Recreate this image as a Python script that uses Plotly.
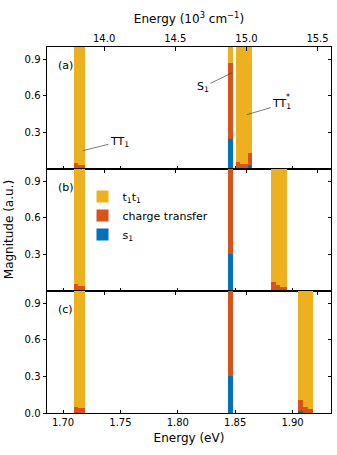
import plotly.graph_objects as go

# ---------------- data ----------------
KCM_PER_EV = 8.065544  # 1 eV = 8.065544 x 10^3 cm^-1

panel_labels = ["(a)", "(b)", "(c)"]
series_names = ["s<sub>1</sub>", "charge transfer", "t<sub>1</sub>t<sub>1</sub>"]

energy_a = [1.7116, 1.7150, 1.7175, 1.8459, 1.8527, 1.8562, 1.8594, 1.8629]
s1_a = [0.0, 0.0, 0.0, 0.25, 0.0, 0.0, 0.0, 0.03]
ct_a = [0.046, 0.030, 0.030, 0.62, 0.060, 0.040, 0.040, 0.10]
tt_a = [2.5, 2.5, 2.5, 0.60, 2.5, 2.5, 2.5, 2.5]

energy_b = [1.7116, 1.7150, 1.7175, 1.8459, 1.8835, 1.8872, 1.8914, 1.8932]
s1_b = [0.0, 0.0, 0.0, 0.30, 0.0, 0.0, 0.0, 0.0]
ct_b = [0.055, 0.043, 0.043, 0.90, 0.071, 0.049, 0.035, 0.035]
tt_b = [2.5, 2.5, 2.5, 0.10, 2.5, 2.5, 2.5, 2.5]

energy_c = [1.7116, 1.7150, 1.7175, 1.8459, 1.9071, 1.9111, 1.9152, 1.9162]
s1_c = [0.0, 0.0, 0.0, 0.30, 0.015, 0.0, 0.0, 0.0]
ct_c = [0.052, 0.040, 0.040, 0.90, 0.092, 0.052, 0.033, 0.033]
tt_c = [2.5, 2.5, 2.5, 0.10, 2.5, 2.5, 2.5, 2.5]

x_ticks_ev = [1.70, 1.75, 1.80, 1.85, 1.90]
x_ticks_kcm = [14.0, 14.5, 15.0, 15.5]
y_ticks_top = [0.3, 0.6, 0.9]
y_ticks_bottom = [0.0, 0.3, 0.6, 0.9]

# ---------------- style ----------------
COLORS = ["#0072BD", "#D95319", "#EDB120"]
FONT = "DejaVu Sans"
BAR_W = 0.004
X_RANGE = [1.686, 1.9335]
Y_RANGE = [0.0, 1.0]
DOMAINS = [[2 / 3, 1.0], [1 / 3, 2 / 3], [0.0, 1 / 3]]

panels = [
    (energy_a, s1_a, ct_a, tt_a),
    (energy_b, s1_b, ct_b, tt_b),
    (energy_c, s1_c, ct_c, tt_c),
]

fig = go.Figure()

for i, (en, s1, ct, tt) in enumerate(panels):
    n = i + 1
    xa = "x" if n == 1 else f"x{n}"
    ya = "y" if n == 1 else f"y{n}"
    base_ct = list(s1)
    base_tt = [a + b for a, b in zip(s1, ct)]
    comps = [(s1, [0.0] * len(s1)), (ct, base_ct), (tt, base_tt)]
    for k, (vals, base) in enumerate(comps):
        fig.add_trace(go.Bar(
            x=en, y=vals, base=base, width=BAR_W,
            marker=dict(color=COLORS[k], line=dict(width=0)),
            name=series_names[k], showlegend=(i == 0),
            xaxis=xa, yaxis=ya,
        ))
    # empty traces so that the secondary (top / right) axes get drawn
    fig.add_trace(go.Scatter(x=[], y=[], xaxis=f"x{n + 3}", yaxis=ya,
                             showlegend=False, hoverinfo="skip"))
    fig.add_trace(go.Scatter(x=[], y=[], xaxis=xa, yaxis=f"y{n + 3}",
                             showlegend=False, hoverinfo="skip"))

axis_line = dict(showline=True, linecolor="black", linewidth=1,
                 showgrid=False, zeroline=False, tickcolor="black",
                 tickwidth=1, ticklen=3.5, automargin=False,
                 tickfont=dict(family=FONT, size=10, color="black"))

layout = dict(
    width=337, height=455,
    margin=dict(l=47, r=6, t=47, b=42, autoexpand=False),
    paper_bgcolor="white", plot_bgcolor="white",
    barmode="overlay", bargap=0,
    font=dict(family=FONT, size=10, color="black"),
    showlegend=True,
    legend=dict(
        x=0.125, y=0.631, xanchor="left", yanchor="top",
        traceorder="reversed", bgcolor="rgba(0,0,0,0)",
        font=dict(family=FONT, size=11, color="black"),
    ),
)

kcm_range = [X_RANGE[0] * KCM_PER_EV, X_RANGE[1] * KCM_PER_EV]

for i in range(3):
    n = i + 1
    suffix = "" if n == 1 else str(n)
    yname = "y" if n == 1 else f"y{n}"
    xname = "x" if n == 1 else f"x{n}"
    # bottom eV axis
    xa = dict(axis_line, range=X_RANGE, domain=[0, 1], anchor=yname,
              ticks="inside", tickvals=x_ticks_ev, tickformat=".2f",
              showticklabels=(n == 3))
    if n == 3:
        xa["title"] = dict(text="Energy (eV)", font=dict(family=FONT, size=12),
                           standoff=6)
    layout[f"xaxis{suffix}"] = xa
    # left y axis
    layout[f"yaxis{suffix}"] = dict(
        axis_line, range=Y_RANGE, domain=DOMAINS[i], anchor=xname,
        ticks="outside", tickvals=(y_ticks_bottom if n == 3 else y_ticks_top),
        tickformat=".1f")
    # top wavenumber axis
    xt = dict(axis_line, range=kcm_range, overlaying=xname, anchor=yname,
              side="top", ticks="inside", tickvals=x_ticks_kcm,
              tickformat=".1f", showticklabels=(n == 1))
    if n == 1:
        xt["title"] = dict(text="Energy (10<sup>3</sup> cm<sup>\u22121</sup>)",
                           font=dict(family=FONT, size=12), standoff=6)
    layout[f"xaxis{n + 3}"] = xt
    # right y axis
    layout[f"yaxis{n + 3}"] = dict(
        axis_line, range=Y_RANGE, overlaying=yname, anchor=xname,
        side="right", ticks="inside", tickvals=y_ticks_top,
        showticklabels=False)

fig.update_layout(**layout)

# panel labels
for i, lab in enumerate(panel_labels):
    n = i + 1
    fig.add_annotation(
        x=1.6942, y=0.845, xref="x" if n == 1 else f"x{n}",
        yref="y" if n == 1 else f"y{n}", text=lab, showarrow=False,
        xanchor="left", yanchor="middle",
        font=dict(family=FONT, size=11, color="black"))

# state annotations in panel (a)
arrow_style = dict(showarrow=True, arrowhead=0, arrowwidth=0.7,
                   arrowcolor="#444444", axref="x", ayref="y",
                   xref="x", yref="y",
                   font=dict(family=FONT, size=11, color="black"))
fig.add_annotation(x=1.7172, y=0.15, ax=1.7490, ay=0.225,
                   text="TT<sub>1</sub>", **arrow_style)
fig.add_annotation(x=1.8475, y=0.79, ax=1.8219, ay=0.672,
                   text="S<sub>1</sub>", **arrow_style)
fig.add_annotation(x=1.8600, y=0.445, ax=1.8906, ay=0.530,
                   text="TT<sub>1</sub>", **arrow_style)
fig.add_annotation(x=1.8925, y=0.585, xref="x", yref="y", text="*",
                   showarrow=False, xanchor="left",
                   font=dict(family=FONT, size=8, color="black"))

# y-axis title
fig.add_annotation(x=-0.133, y=0.5, xref="paper", yref="paper",
                   text="Magnitude (a.u.)", textangle=-90, showarrow=False,
                   xanchor="center", yanchor="middle",
                   font=dict(family=FONT, size=12, color="black"))

fig.write_html("out.html",
               config={"displayModeBar": False},
               post_script="document.body.style.margin='0';"
                           "document.body.style.padding='0';")
